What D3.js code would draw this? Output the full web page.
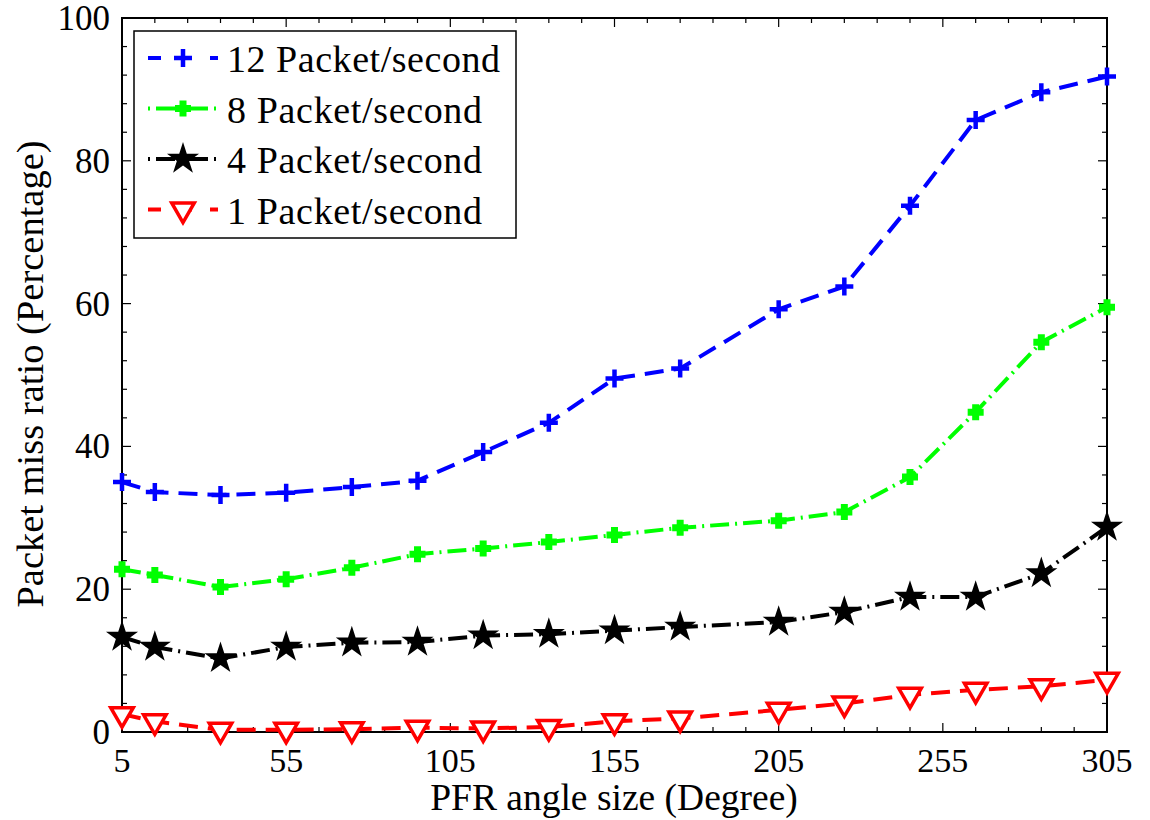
<!DOCTYPE html>
<meta charset="utf-8">
<style>
    body { margin: 0; background: #fff; }
    text { font-family: "Liberation Serif", "Times New Roman", serif; }
</style>
<svg width="1150" height="820"></svg>
<script src="https://d3js.org/d3.v7.min.js"></script>
<script>

    // angle sizes (degree)
    var angles = [5, 15, 35, 55, 75, 95, 115, 135, 155, 175, 205, 225, 245, 265, 285, 305];

    // packet miss ratio (%) per rate
    var rate12 = [35.0, 33.6, 33.2, 33.5, 34.3, 35.2, 39.2, 43.3, 49.5, 50.9, 59.2, 62.4, 73.7, 85.7, 89.6, 91.8],
        rate8 = [22.8, 22.0, 20.3, 21.4, 23.0, 24.9, 25.7, 26.6, 27.6, 28.6, 29.6, 30.8, 35.7, 44.8, 54.6, 59.5],
        rate4 = [13.3, 11.9, 10.3, 11.9, 12.5, 12.6, 13.5, 13.7, 14.2, 14.7, 15.4, 16.8, 18.9, 18.9, 22.2, 28.7],
        rate1 = [2.5, 1.5, 0.3, 0.3, 0.4, 0.6, 0.5, 0.7, 1.5, 1.9, 3.1, 4.0, 5.2, 5.9, 6.4, 7.3];

    var xTicks = [5, 55, 105, 155, 205, 255, 305],
        yTicks = [0, 20, 40, 60, 80, 100];

    var series = [
        { name: "12 Packet/second", values: rate12, color: "#0000ff", dash: "19,10", marker: "plus" },
        { name: "8 Packet/second", values: rate8, color: "#00ff00", dash: "19,6,2,6", marker: "fatplus" },
        { name: "4 Packet/second", values: rate4, color: "#000000", dash: "19,6,2,6", marker: "star" },
        { name: "1 Packet/second", values: rate1, color: "#ff0000", dash: "19,10", marker: "tri" }
    ];

    var svg = d3.select("svg"),
        margin = { top: 18, right: 43, bottom: 88, left: 122 },
        width = 1150 - margin.left - margin.right,
        height = 820 - margin.top - margin.bottom;

    var g = svg.append("g").attr("transform", "translate(" + margin.left + "," + margin.top + ")");

    var x = d3.scaleLinear().domain([5, 305]).range([0, width]);
    var y = d3.scaleLinear().domain([0, 100]).range([height, 0]);

    // minor ticks, on all four sides, pointing inward
    var xMinor = d3.range(5, 306, 10),
        yMinor = d3.range(0, 101, 4);

    var ticks = g.append("g").attr("stroke", "#000").attr("stroke-width", 1.2);
    xMinor.forEach(function (v) {
        var len = xTicks.indexOf(v) >= 0 ? 9 : 5;
        ticks.append("line").attr("x1", x(v)).attr("x2", x(v)).attr("y1", height).attr("y2", height - len);
        ticks.append("line").attr("x1", x(v)).attr("x2", x(v)).attr("y1", 0).attr("y2", len);
    });
    yMinor.forEach(function (v) {
        var len = yTicks.indexOf(v) >= 0 ? 9 : 5;
        ticks.append("line").attr("y1", y(v)).attr("y2", y(v)).attr("x1", 0).attr("x2", len);
        ticks.append("line").attr("y1", y(v)).attr("y2", y(v)).attr("x1", width).attr("x2", width - len);
    });

    // box
    g.append("rect").attr("width", width).attr("height", height)
        .attr("fill", "none").attr("stroke", "#000").attr("stroke-width", 2);

    // tick labels
    g.selectAll(".xl").data(xTicks).enter().append("text")
        .attr("x", function (d) { return x(d); })
        .attr("y", height + 40)
        .attr("text-anchor", "middle")
        .attr("font-size", 34)
        .text(function (d) { return d; });

    g.selectAll(".yl").data(yTicks).enter().append("text")
        .attr("x", -12)
        .attr("y", function (d) { return y(d) + 12; })
        .attr("text-anchor", "end")
        .attr("font-size", 35)
        .text(function (d) { return d; });

    // axis titles
    svg.append("text")
        .attr("x", 614)
        .attr("y", 810)
        .attr("text-anchor", "middle")
        .attr("font-size", 37.5)
        .text("PFR angle size (Degree)");

    svg.append("text")
        .attr("transform", "translate(43,374) rotate(-90)")
        .attr("text-anchor", "middle")
        .attr("font-size", 38.5)
        .text("Packet miss ratio (Percentage)");

    var line = d3.line()
        .x(function (d, i) { return x(angles[i]); })
        .y(function (d) { return y(d); });

    var star = d3.symbol().type(d3.symbolStar).size(320);
    var tri = d3.symbol().type(d3.symbolTriangle).size(220);

    function drawMarker(sel, s) {
        if (s.marker === "plus") {
            sel.append("path").attr("d", "M-9,0H9M0,-9V9")
                .attr("stroke", s.color).attr("stroke-width", 4.5).attr("fill", "none");
        } else if (s.marker === "fatplus") {
            sel.append("path").attr("d", "M-8,0H8M0,-8V8")
                .attr("stroke", s.color).attr("stroke-width", 7).attr("fill", "none");
        } else if (s.marker === "star") {
            sel.append("path").attr("d", star).attr("fill", s.color);
        } else {
            sel.append("path").attr("d", tri).attr("transform", "rotate(180)")
                .attr("fill", "#fff").attr("stroke", s.color).attr("stroke-width", 3.5);
        }
    }

    series.forEach(function (s) {
        g.append("path")
            .datum(s.values)
            .attr("d", line)
            .attr("fill", "none")
            .attr("stroke", s.color)
            .attr("stroke-width", 4)
            .attr("stroke-dasharray", s.dash);

        s.values.forEach(function (v, i) {
            var m = g.append("g").attr("transform", "translate(" + x(angles[i]) + "," + y(v) + ")");
            drawMarker(m, s);
        });
    });

    // legend
    var legend = svg.append("g").attr("transform", "translate(134,31)");
    legend.append("rect").attr("width", 382).attr("height", 207)
        .attr("fill", "#fff").attr("stroke", "#000").attr("stroke-width", 1.5);

    series.forEach(function (s, i) {
        var ly = 27 + i * 50.5;
        var row = legend.append("g").attr("transform", "translate(0," + ly + ")");
        row.append("line").attr("x1", 14).attr("x2", 84).attr("y1", 0).attr("y2", 0)
            .attr("stroke", s.color).attr("stroke-width", 4)
            .attr("stroke-dasharray", s.dash === "19,10" ? "13,18" : "2,6,19,6,2,6,19,6");
        var m = row.append("g").attr("transform", "translate(49,0)");
        drawMarker(m, s);
        row.append("text").attr("x", 93).attr("y", 14).attr("font-size", 38)
            .attr("textLength", s.name.length > 15 ? 273 : 255)
            .text(s.name);
    });

</script>
